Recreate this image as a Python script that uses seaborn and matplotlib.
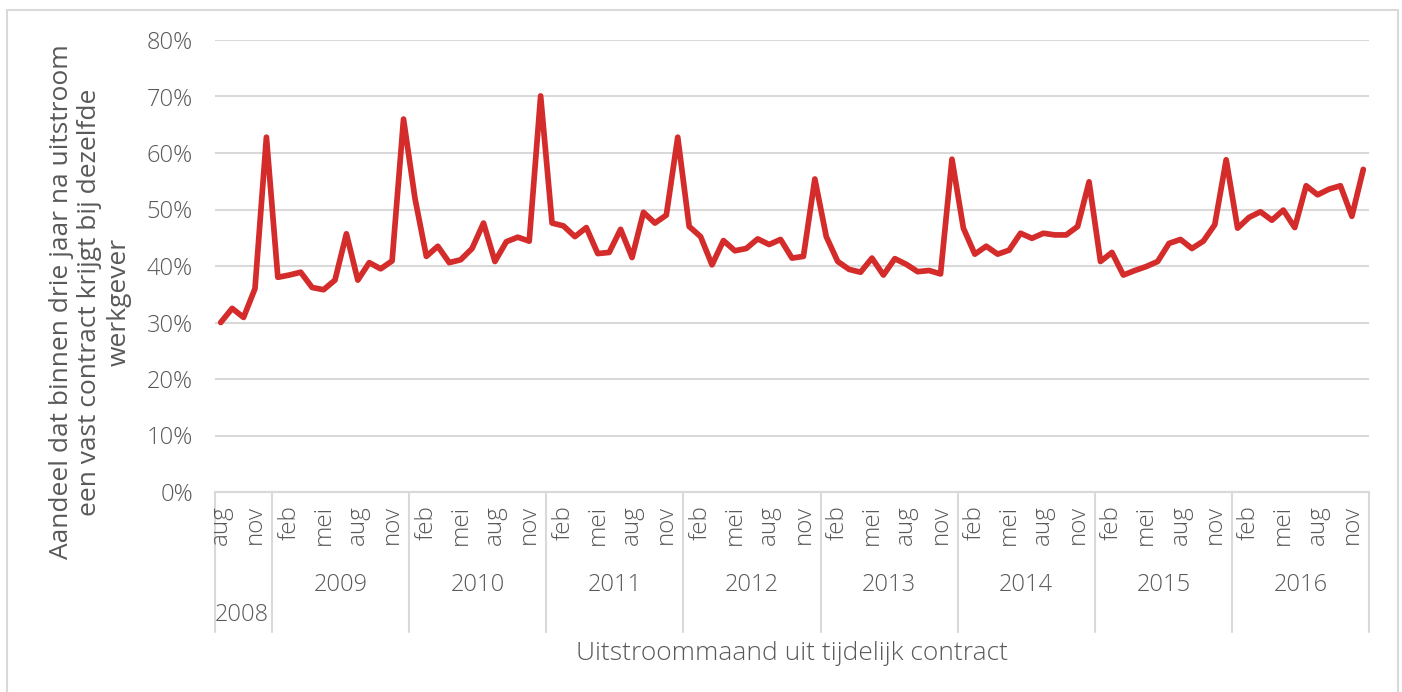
import numpy as np
import pandas as pd
import seaborn as sns
import matplotlib.pyplot as plt
from matplotlib.patches import Rectangle
from matplotlib.ticker import PercentFormatter

sns.set_theme(style="white")
plt.rcParams['font.family'] = ['Open Sans', 'DejaVu Sans']
plt.rcParams['font.weight'] = 'light'

# months from aug 2008 up to dec 2016
month_names = ['jan', 'feb', 'mrt', 'apr', 'mei', 'jun',
               'jul', 'aug', 'sep', 'okt', 'nov', 'dec']
years = [2008] * 5 + [y for y in range(2009, 2017) for _ in range(12)]
months = month_names[7:] + month_names * 8

aandeel = [
    30.0, 32.5, 30.9, 36.0, 62.8,                                        # 2008
    38.0, 38.4, 38.9, 36.2, 35.8, 37.5, 45.7, 37.5, 40.6, 39.5, 40.9, 66.0,  # 2009
    52.0, 41.7, 43.5, 40.6, 41.1, 43.1, 47.6, 40.8, 44.3, 45.1, 44.4, 70.1,  # 2010
    47.6, 47.1, 45.2, 46.8, 42.2, 42.4, 46.5, 41.5, 49.5, 47.6, 49.0, 62.8,  # 2011
    47.0, 45.2, 40.2, 44.5, 42.7, 43.1, 44.8, 43.8, 44.7, 41.4, 41.7, 55.4,  # 2012
    45.2, 40.8, 39.4, 38.9, 41.4, 38.4, 41.3, 40.3, 39.0, 39.2, 38.6, 58.9,  # 2013
    46.7, 42.1, 43.5, 42.1, 42.8, 45.8, 44.9, 45.8, 45.5, 45.5, 47.0, 54.9,  # 2014
    40.8, 42.4, 38.4, 39.2, 39.9, 40.8, 44.0, 44.7, 43.1, 44.4, 47.3, 58.8,  # 2015
    46.7, 48.6, 49.6, 48.1, 49.9, 46.8, 54.2, 52.6, 53.6, 54.2, 48.8, 57.1,  # 2016
]

df = pd.DataFrame({'jaar': years, 'maand': months, 'aandeel': np.array(aandeel) / 100})
df['pos'] = np.arange(len(df))

grey = '#595959'
gridc = '#d9d9d9'
W, H = 1402, 692

fig = plt.figure(figsize=(W / 100, H / 100), dpi=100)
ax = fig.add_axes([215 / W, 1 - 492 / H, 1154 / W, 452 / H])

# outer frame of the chart
fig.patches.append(Rectangle((7 / W, -0.05), 1391 / W, 1.05 - 10 / H, transform=fig.transFigure,
                             fill=False, edgecolor='#d9d9d9', linewidth=1.5))

sns.lineplot(data=df, x='pos', y='aandeel', color='#d42b2b', linewidth=4.1, ax=ax,
             solid_joinstyle='round', solid_capstyle='round')

ax.set_ylim(0, 0.8)
ax.set_xlim(-0.5, len(df) - 0.5)
ax.set_yticks(np.arange(0, 0.81, 0.1))
ax.yaxis.set_major_formatter(PercentFormatter(1.0, decimals=0))
ax.tick_params(axis='y', colors=grey, labelsize=17, length=0, pad=16)
ax.set_xticks([])
ax.grid(axis='y', color=gridc, linewidth=1.5)
ax.set_axisbelow(True)
for s in ['top', 'right', 'left']:
    ax.spines[s].set_visible(False)
ax.spines['bottom'].set_color(gridc)
ax.spines['bottom'].set_linewidth(1.5)
ax.set_xlabel('')
ax.set_ylabel('Aandeel dat binnen drie jaar na uitstroom\neen vast contract krijgt bij dezelfde\nwerkgever',
              color=grey, fontsize=19, linespacing=1.2, va='center')
ax.yaxis.set_label_coords((90 - 215) / 1154, (492 - 302) / 452)

tr = ax.get_xaxis_transform()
def below(p):
    return -p / 452

# month labels every three months
for _, r in df.iterrows():
    if r['maand'] in ('feb', 'mei', 'aug', 'nov'):
        ax.text(r['pos'], below(13), r['maand'], transform=tr, rotation=90,
                ha='center', va='top', color=grey, fontsize=17.5)

# year labels and separators
first = df.groupby('jaar')['pos'].min()
last = df.groupby('jaar')['pos'].max()
bounds = list(first.values - 0.5) + [len(df) - 0.5]
for b in bounds:
    ax.plot([b, b], [0, below(140)], transform=tr, color=gridc, linewidth=1.5, clip_on=False)
for jaar in first.index:
    if jaar == 2008:
        ax.text(first[jaar] - 0.5, below(123), str(jaar), transform=tr,
                ha='left', va='center', color=grey, fontsize=17)
    else:
        ax.text((first[jaar] + last[jaar]) / 2, below(93), str(jaar), transform=tr,
                ha='center', va='center', color=grey, fontsize=17)

ax.text(0.5, below(162), 'Uitstroommaand uit tijdelijk contract', transform=ax.transAxes,
        ha='center', va='center', color=grey, fontsize=19)

fig.savefig('out.png', dpi=100)
